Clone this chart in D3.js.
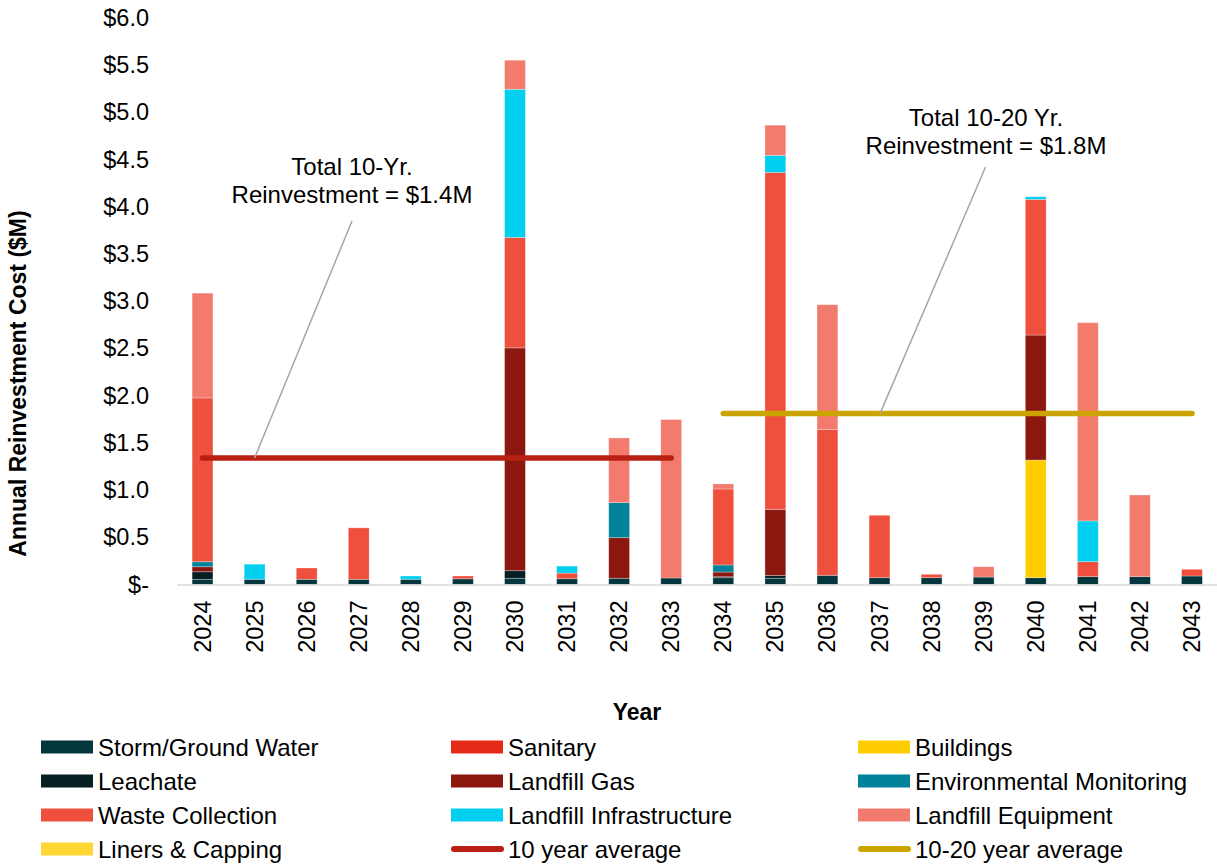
<!DOCTYPE html>
<html>
<head>
<meta charset="utf-8">
<script src="https://cdn.jsdelivr.net/npm/d3@7"></script>
<style>
  html, body { margin: 0; padding: 0; background: #fff; }
  svg { display: block; font-family: Arial, "Liberation Sans", sans-serif; }
</style>
</head>
<body>
<svg id="chart" width="1217" height="865"></svg>
<script>
// Annual reinvestment cost by asset category ($M)
const years = ["2024","2025","2026","2027","2028","2029","2030","2031","2032","2033",
               "2034","2035","2036","2037","2038","2039","2040","2041","2042","2043"];

const stormGroundWater   = [0.055,0.055,0.055,0.055,0.055,0.060,0.066,0.061,0.066,0.069,0.072,0.066,0.097,0.072,0.072,0.079,0.072,0.083,0.083,0.090];
const sanitary           = [0,0,0,0,0,0,0,0,0,0,0,0,0,0,0,0,0,0,0,0];
const buildings          = [0,0,0,0,0,0,0,0,0,0,0,0,0,0,0,0,1.246,0,0,0];
const leachate           = [0.080,0,0,0,0,0,0.080,0,0,0,0.010,0.030,0,0,0,0,0,0,0,0];
const landfillGas        = [0.053,0,0,0,0,0,2.360,0,0.430,0,0.050,0.700,0,0,0,0,1.324,0,0,0];
const envMonitoring      = [0.053,0,0,0,0,0,0,0,0.371,0,0.075,0,0,0,0,0,0,0,0,0];
const wasteCollection    = [1.735,0,0.120,0.545,0,0.030,1.170,0.060,0,0,0.805,3.569,1.546,0.661,0.036,0,1.437,0.159,0,0.071];
const landfillInfra      = [0,0.160,0,0,0.035,0,1.569,0.074,0,0,0,0.180,0,0,0,0,0.028,0.431,0,0];
const landfillEquipment  = [1.110,0,0,0,0,0,0.308,0,0.685,1.678,0.053,0.320,1.320,0,0,0.109,0,2.100,0.865,0];
const linersCapping      = [0,0,0,0,0,0,0,0,0,0,0,0,0,0,0,0,0,0,0,0];

const seriesNames  = ["Storm/Ground Water","Sanitary","Buildings","Leachate","Landfill Gas",
                      "Environmental Monitoring","Waste Collection","Landfill Infrastructure",
                      "Landfill Equipment","Liners & Capping"];
const seriesValues = [stormGroundWater, sanitary, buildings, leachate, landfillGas,
                      envMonitoring, wasteCollection, landfillInfra, landfillEquipment, linersCapping];
const seriesColors = ["#03363d","#e52a18","#ffcc00","#051f22","#8b170e",
                      "#00829a","#ef503e","#00cfef","#f27b6e","#ffd633"];

// Period averages
const avg10Years   = ["2024","2033"];
const avg10Value   = 1.34;
const avg1020Years = ["2034","2043"];
const avg1020Value = 1.81;
const avgNames  = ["10 year average","10-20 year average"];
const avgColors = ["#b92012","#cca400"];

const yTicks = [0,0.5,1,1.5,2,2.5,3,3.5,4,4.5,5,5.5,6];

const FONT = 24;
const svg = d3.select("#chart");
const margin = {left: 176.5, right: 1218, top: 18, bottom: 584.5};

const x = d3.scaleBand().domain(years).range([margin.left, margin.right]).paddingInner(0.6).paddingOuter(0.3);
const y = d3.scaleLinear().domain([0, 6]).range([margin.bottom, margin.top]);

// stacked table
const table = years.map((yr, i) => {
  const row = {year: yr};
  seriesNames.forEach((n, k) => row[n] = seriesValues[k][i]);
  return row;
});
const stacked = d3.stack().keys(seriesNames)(table);

// y axis labels
const yAxis = d3.axisLeft(y).tickValues(yTicks)
  .tickFormat(d => d === 0 ? "$-" : "$" + d3.format(".1f")(d))
  .tickSize(0).tickPadding(0);
const gy = svg.append("g").attr("transform", `translate(149,0)`).call(yAxis);
gy.select(".domain").remove();
gy.selectAll("text").attr("font-size", FONT - 0.5).attr("fill", "#000")
  .attr("font-family", "Arial, 'Liberation Sans', sans-serif");

// bars
const layers = svg.append("g").selectAll("g").data(stacked).join("g")
  .attr("fill", (d, i) => seriesColors[i]);
layers.selectAll("rect").data(d => d.filter(s => s[1] - s[0] > 0)).join("rect")
  .attr("x", d => x(d.data.year))
  .attr("width", x.bandwidth())
  .attr("y", d => y(d[1]))
  .attr("height", d => y(d[0]) - y(d[1]))
  .attr("stroke", "#ffffff").attr("stroke-opacity", 0.35).attr("stroke-width", 0.8);

// x axis
const xAxis = d3.axisBottom(x).tickSize(0).tickPadding(0);
const gx = svg.append("g").attr("transform", `translate(0,${y(0)})`).call(xAxis);
gx.select(".domain").attr("stroke", "#d9d9d9").attr("stroke-width", 1.5);
gx.selectAll("text")
  .attr("font-size", FONT - 0.5).attr("fill", "#000")
  .attr("font-family", "Arial, 'Liberation Sans', sans-serif")
  .attr("text-anchor", "end")
  .attr("dy", null).attr("y", 0)
  .attr("transform", "translate(0,16) rotate(-90)")
  .attr("dominant-baseline", "central");

// average lines
const cx = yr => x(yr) + x.bandwidth() / 2;
svg.append("line")
  .attr("x1", cx(avg10Years[0])).attr("x2", cx(avg10Years[1]))
  .attr("y1", y(avg10Value)).attr("y2", y(avg10Value))
  .attr("stroke", avgColors[0]).attr("stroke-width", 5.5).attr("stroke-linecap", "round");
svg.append("line")
  .attr("x1", cx(avg1020Years[0])).attr("x2", cx(avg1020Years[1]))
  .attr("y1", y(avg1020Value)).attr("y2", y(avg1020Value))
  .attr("stroke", avgColors[1]).attr("stroke-width", 5.5).attr("stroke-linecap", "round");

// callouts
function callout(lines, tx, ty, lx1, ly1, lx2, ly2) {
  svg.append("line").attr("x1", lx1).attr("y1", ly1).attr("x2", lx2).attr("y2", ly2)
    .attr("stroke", "#a6a6a6").attr("stroke-width", 1.5);
  const t = svg.append("text").attr("text-anchor", "middle").attr("font-size", FONT).attr("fill", "#000");
  lines.forEach((s, i) => t.append("tspan").attr("x", tx).attr("y", ty + i * 28).text(s));
}
callout(["Total 10-Yr.", "Reinvestment = $1.4M"], 352, 175,
        352, 221, cx("2025"), y(avg10Value));
callout(["Total 10-20 Yr.", "Reinvestment = $1.8M"], 986, 126,
        985.5, 167, 880, y(avg1020Value));

// axis titles
svg.append("text").attr("transform", `translate(26,${(205 + 562) / 2}) rotate(-90)`)
  .attr("text-anchor", "middle").attr("font-size", FONT - 1).attr("font-weight", "bold")
  .text("Annual Reinvestment Cost ($M)");
svg.append("text").attr("x", 637).attr("y", 720)
  .attr("text-anchor", "middle").attr("font-size", FONT - 1).attr("font-weight", "bold")
  .text("Year");

// legend
const legendItems = seriesNames.map((n, i) => ({name: n, color: seriesColors[i], type: "rect"}))
  .concat(avgNames.map((n, i) => ({name: n, color: avgColors[i], type: "line"})));
const colX = [41, 451, 858];
const rowY = [747, 781, 815, 849];
const lg = svg.append("g");
legendItems.forEach((it, i) => {
  const gx0 = colX[i % 3], gy0 = rowY[Math.floor(i / 3)];
  if (it.type === "rect") {
    lg.append("rect").attr("x", gx0).attr("y", gy0 - 6.5).attr("width", 52).attr("height", 13).attr("fill", it.color);
  } else {
    lg.append("line").attr("x1", gx0 + 3).attr("x2", gx0 + 50).attr("y1", gy0).attr("y2", gy0)
      .attr("stroke", it.color).attr("stroke-width", 6).attr("stroke-linecap", "round");
  }
  lg.append("text").attr("x", gx0 + 57).attr("y", gy0).attr("dominant-baseline", "central")
    .attr("font-size", FONT).attr("fill", "#000").text(it.name);
});
</script>
</body>
</html>
